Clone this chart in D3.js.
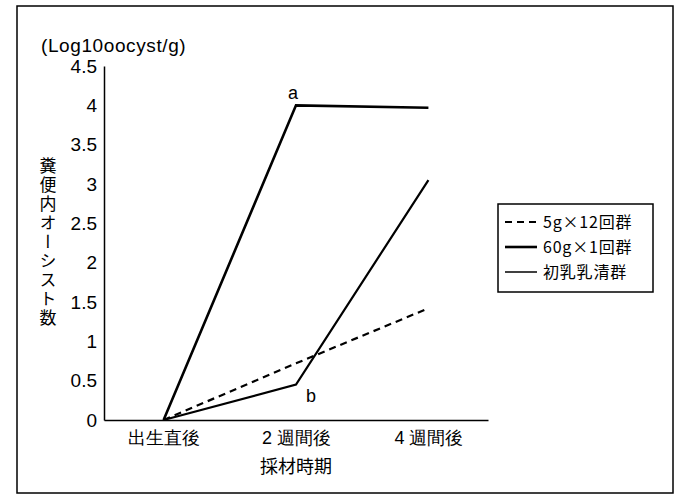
<!DOCTYPE html>
<html><head><meta charset="utf-8">
<script src="https://cdn.jsdelivr.net/npm/d3@7"></script>
<style>body{margin:0;background:#fff;}svg{display:block;font-family:"Noto Sans CJK JP","Noto Sans",sans-serif;}</style>
</head><body>
<script>
const categories = ["出生直後", "2 週間後", "4 週間後"];
const seriesNames = ["5g×12回群", "60g×1回群", "初乳乳清群"];
const dose5x12 = [0, 0.72, 1.42];
const dose60x1 = [0, 4.0, 3.97];
const wheyGroup = [0, 0.45, 3.05];
const yTicks = [0, 0.5, 1, 1.5, 2, 2.5, 3, 3.5, 4, 4.5];
const yTickLabels = ["0", "0.5", "1", "1.5", "2", "2.5", "3", "3.5", "4", "4.5"];
const pointLabels = [{series: 1, idx: 1, text: "a"}, {series: 2, idx: 1, text: "b"}];

const W = 684, H = 496;
const svg = d3.select("body").append("svg").attr("width", W).attr("height", H);

svg.append("rect").attr("x", 17).attr("y", 6).attr("width", 656).attr("height", 487)
  .attr("fill", "none").attr("stroke", "#000").attr("stroke-width", 1.5);

const x = d3.scalePoint().domain(categories).range([104, 488]).padding(0.45);
const y = d3.scaleLinear().domain([0, 4.5]).range([420, 66]);

// axes
const yAxis = svg.append("g").attr("transform", "translate(104,0)")
  .call(d3.axisLeft(y).tickValues(yTicks).tickSize(0).tickPadding(7).tickFormat((d, i) => yTickLabels[i]));
yAxis.select(".domain").attr("stroke", "#000").attr("stroke-width", 1.5);
yAxis.selectAll("text").attr("font-size", 19).attr("fill", "#000").attr("font-family", "Liberation Sans, Arial, sans-serif");

const xAxis = svg.append("g").attr("transform", "translate(0,420)")
  .call(d3.axisBottom(x).tickSize(0).tickPadding(11));
xAxis.select(".domain").attr("stroke", "#000").attr("stroke-width", 1.5);
xAxis.selectAll("text").attr("font-size", 18).attr("fill", "#000");

svg.append("text").attr("x", x(categories[1])).attr("y", 473).attr("text-anchor", "middle")
  .attr("font-size", 18).text("採材時期");

svg.append("text").attr("x", 41).attr("y", 52).attr("font-size", 19).attr("letter-spacing", 0.6)
  .attr("font-family", "Liberation Sans, Arial, sans-serif").text("(Log10oocyst/g)");

svg.append("text").attr("x", 48).attr("y", 157)
  .style("writing-mode", "vertical-rl").attr("letter-spacing", 2)
  .attr("font-size", 17).text("糞便内オーシスト数");

// lines
const series = [
  {name: seriesNames[0], values: dose5x12, dash: "7,5", width: 2.2},
  {name: seriesNames[1], values: dose60x1, dash: null, width: 2.6},
  {name: seriesNames[2], values: wheyGroup, dash: null, width: 2.2}
];
const line = d3.line().x((d, i) => x(categories[i])).y(d => y(d));
svg.append("g").selectAll("path").data(series).join("path")
  .attr("d", s => line(s.values)).attr("fill", "none").attr("stroke", "#000")
  .attr("stroke-width", s => s.width).attr("stroke-dasharray", s => s.dash);

svg.append("g").selectAll("text").data(pointLabels).join("text")
  .attr("x", d => x(categories[d.idx]) + (d.text === "a" ? -8 : 10))
  .attr("y", d => y(series[d.series].values[d.idx]) + (d.text === "a" ? -6 : 17))
  .attr("font-size", 18).attr("font-family", "Liberation Sans, Arial, sans-serif").text(d => d.text);

// legend
const lg = svg.append("g");
lg.append("rect").attr("x", 498).attr("y", 204).attr("width", 155).attr("height", 88)
  .attr("fill", "#fff").attr("stroke", "#000").attr("stroke-width", 1.5);
const lgSeries = [
  {dash: "7,5", width: 2.2},
  {dash: null, width: 2.6},
  {dash: null, width: 1.5}
];
seriesNames.forEach((n, i) => {
  const yy = 222 + i * 25;
  lg.append("line").attr("x1", 505).attr("x2", 537).attr("y1", yy).attr("y2", yy)
    .attr("stroke", "#000").attr("stroke-width", lgSeries[i].width).attr("stroke-dasharray", lgSeries[i].dash);
  lg.append("text").attr("x", 543).attr("y", yy + 6).attr("font-size", 16).attr("letter-spacing", 0.8).text(n);
});
</script>
</body></html>
